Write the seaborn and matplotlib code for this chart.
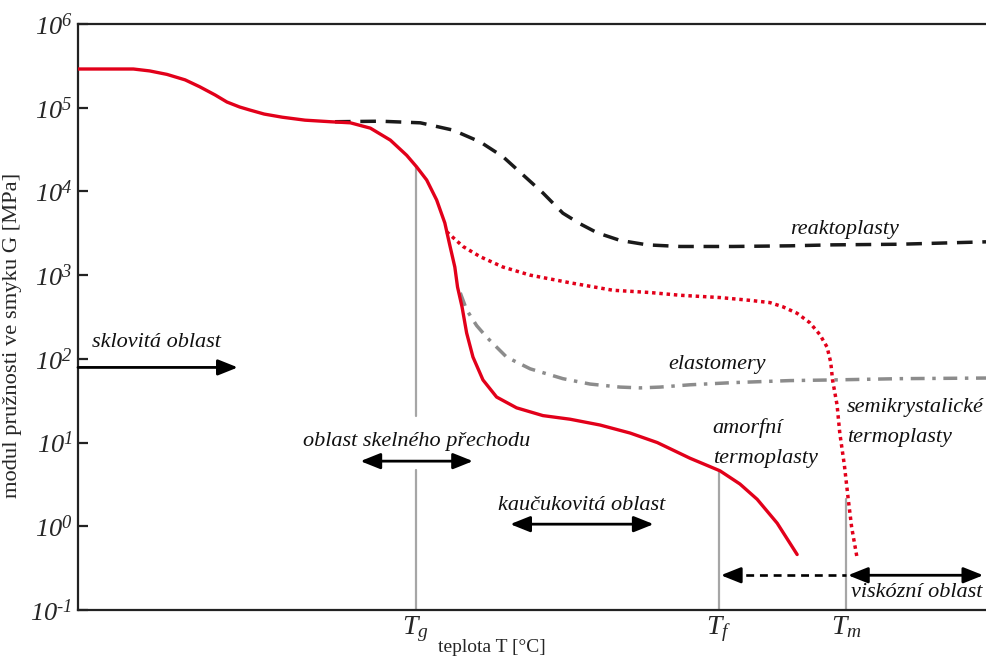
import matplotlib
matplotlib.use("Agg")
import matplotlib.pyplot as plt
import seaborn as sns
import numpy as np
from matplotlib.ticker import FuncFormatter, FixedLocator, NullLocator

# ---------------- data (x = temperature, arbitrary units 0..100; G in MPa) ----------------
T_amorf = [0.0, 3.5, 6.1, 7.9, 9.8, 11.8, 13.4, 15.1, 16.4, 17.8, 18.9, 20.5, 22.5, 25.0,
           27.8, 30.0, 32.2, 34.4, 36.2, 37.3, 38.4, 39.5, 40.4, 40.9, 41.5, 41.8, 42.3,
           42.8, 43.5, 44.6, 46.1, 48.3, 51.2, 54.2, 57.5, 60.8, 63.8, 67.4, 70.7, 72.9,
           74.8, 77.0, 79.2]
G_amorf = [2.9e5, 2.9e5, 2.9e5, 2.75e5, 2.5e5, 2.15e5, 1.78e5, 1.42e5, 1.17e5, 1.02e5,
           9.4e4, 8.4e4, 7.7e4, 7.1e4, 6.8e4, 6.6e4, 5.7e4, 4.1e4, 2.7e4, 1.96e4, 1.37e4,
           7.9e3, 4.2e3, 2.4e3, 1.25e3, 720, 415, 204, 105, 56, 35, 26, 21, 19, 16.2, 13,
           10, 6.5, 4.6, 3.2, 2.1, 1.09, 0.46]

T_reakto = [28.3, 33.3, 37.7, 41.3, 44.3, 46.8, 49.0, 51.2, 53.4, 55.3, 57.2, 59.7, 62.7,
            66.3, 72.1, 78.4, 83.1, 90.5, 100]
G_reakto = [6.8e4, 6.9e4, 6.6e4, 5.4e4, 3.9e4, 2.6e4, 1.58e4, 9.6e3, 5.5e3, 4.1e3, 3.2e3,
            2.6e3, 2.3e3, 2.2e3, 2.2e3, 2.24e3, 2.3e3, 2.34e3, 2.5e3]

T_semi = [40.6, 42.4, 44.3, 46.8, 49.8, 54.2, 58.9, 63.0, 66.3, 70.7, 74.0, 76.2, 77.6,
          79.2, 80.6, 81.7, 82.5, 82.9, 83.1, 83.6, 83.9, 84.4, 84.8, 85.2, 85.8]
G_semi = [3.3e3, 2.2e3, 1.66e3, 1.25e3, 1.0e3, 810, 660, 620, 575, 540, 500, 470, 420,
          350, 270, 195, 138, 91, 56, 28, 12.9, 5.4, 2.24, 0.98, 0.42]

T_elast = [42.1, 42.8, 43.9, 45.0, 47.2, 49.8, 53.4, 56.4, 59.7, 61.9, 64.1, 67.4, 72.1,
           78.4, 83.1, 90.5, 100]
G_elast = [615, 385, 250, 182, 105, 76, 58, 50, 46, 45, 46, 49, 52, 55, 56, 58, 59]

T_marks = [37.2, 70.6, 84.6]
T_mark_labels = [r"$T_g$", r"$T_f$", r"$T_m$"]
y_decades = [1e-1, 1e0, 1e1, 1e2, 1e3, 1e4, 1e5, 1e6]

# ---------------- style ----------------
sns.set_theme(style="white")
plt.rcParams["font.family"] = ["Liberation Serif", "DejaVu Serif"]
plt.rcParams["mathtext.fontset"] = "custom"
plt.rcParams["mathtext.rm"] = "Liberation Serif:italic"
plt.rcParams["mathtext.it"] = "Liberation Serif:italic"
plt.rcParams["mathtext.bf"] = "Liberation Serif:bold"

RED = "#e2001a"
BLACK = "#1a1a1a"
GRAY = "#8c8c8c"
VGRAY = "#a6a6a6"

fig = plt.figure(figsize=(9.86, 6.57), dpi=100)
ax = fig.add_axes([78 / 986, 47 / 657, 908 / 986, 586 / 657])
ax.set_yscale("log")
ax.set_xlim(0, 100)
ax.set_ylim(1e-1, 1e6)

# vertical marker lines
ax.plot([T_marks[0]] * 2, [2.0e4, 21], color=VGRAY, lw=1.6, zorder=1)
ax.plot([T_marks[0]] * 2, [4.7, 0.1], color=VGRAY, lw=1.6, zorder=1)
ax.plot([T_marks[1]] * 2, [4.6, 0.1], color=VGRAY, lw=1.6, zorder=1)
ax.plot([T_marks[2]] * 2, [2.1, 0.1], color=VGRAY, lw=1.6, zorder=1)

# curves
common = dict(ax=ax, sort=False, estimator=None, solid_joinstyle="round",
              dash_joinstyle="round")
sns.lineplot(x=T_reakto, y=G_reakto, color=BLACK, lw=2.5,
             linestyle=(0, (4.5, 2.8)), zorder=2, **common)
sns.lineplot(x=T_elast, y=G_elast, color=GRAY, lw=2.5,
             linestyle=(0, (4, 2.2, 1, 2.2)), zorder=2, **common)
sns.lineplot(x=T_semi, y=G_semi, color=RED, lw=2.5,
             linestyle=(0, (1, 1.1)), zorder=3, **common)
sns.lineplot(x=T_amorf, y=G_amorf, color=RED, lw=2.4, zorder=4, **common)

# arrows
def arrow(x0, y0, x1, y1, style="-|>", ls="-"):
    ax.annotate("", xy=(x1, y1), xytext=(x0, y0),
                arrowprops=dict(arrowstyle=style + ",head_length=1.0,head_width=0.4",
                                color="black", lw=2.0, linestyle=ls,
                                shrinkA=0, shrinkB=0), zorder=5)

arrow(0, 79, 17.6, 79)
arrow(31.1, 6.0, 43.5, 6.0, style="<|-|>")
arrow(47.6, 1.06, 63.4, 1.06, style="<|-|>")
ax.plot([72.0, 84.6], [0.26, 0.26], color="black", lw=1.9, linestyle=(0, (3, 2.2)), zorder=5)
arrow(72.5, 0.26, 70.8, 0.26)
arrow(84.8, 0.26, 99.7, 0.26, style="<|-|>")

# texts
tkw = dict(fontsize=16, style="italic", color="#111111")
ax.text(1.5, 155, "sklovitá oblast", ha="left", va="center", **tkw)
ax.text(37.3, 10.2, "oblast skelného přechodu", ha="center", va="center", **tkw)
ax.text(55.5, 1.75, "kaučukovitá oblast", ha="center", va="center", **tkw)
ax.text(92.4, 0.16, "viskózní oblast", ha="center", va="center", **tkw)
ax.text(84.4, 3.5e3, "reaktoplasty", ha="center", va="center", **tkw)
ax.text(70.4, 86, "elastomery", ha="center", va="center", **tkw)
ax.text(69.9, 14.9, "amorfní", ha="left", va="center", **tkw)
ax.text(69.9, 6.5, "termoplasty", ha="left", va="center", **tkw)
ax.text(84.7, 26.6, "semikrystalické", ha="left", va="center", **tkw)
ax.text(84.7, 11.4, "termoplasty", ha="left", va="center", **tkw)

# axes styling
for side in ["left", "top", "bottom"]:
    ax.spines[side].set_color("#222222")
    ax.spines[side].set_linewidth(1.6)
ax.spines["right"].set_visible(False)


def fmt(v, p):
    e = int(round(np.log10(v)))
    es = ("\u2010%d" % -e) if e < 0 else "%d" % e
    return r"$\mathit{10^{%s}}$" % es


ax.yaxis.set_major_locator(FixedLocator(y_decades))
ax.yaxis.set_minor_locator(NullLocator())
ax.yaxis.set_major_formatter(FuncFormatter(fmt))
ax.tick_params(axis="y", which="major", direction="in", length=7, width=1.6,
               color="#222222", labelsize=19, pad=4, left=True)

ax.xaxis.set_major_locator(FixedLocator(T_marks))
ax.set_xticklabels(T_mark_labels)
ax.tick_params(axis="x", length=0, labelsize=20, pad=3)

ax.set_ylabel("modul pružnosti ve smyku G [MPa]", fontsize=16.2)
ax.yaxis.set_label_coords(-0.062, 0.469)
ax.text(45.6, -0.064, "teplota T [°C]", transform=ax.get_xaxis_transform(),
        ha="center", va="center", fontsize=14)

fig.savefig("out.png", dpi=100)
